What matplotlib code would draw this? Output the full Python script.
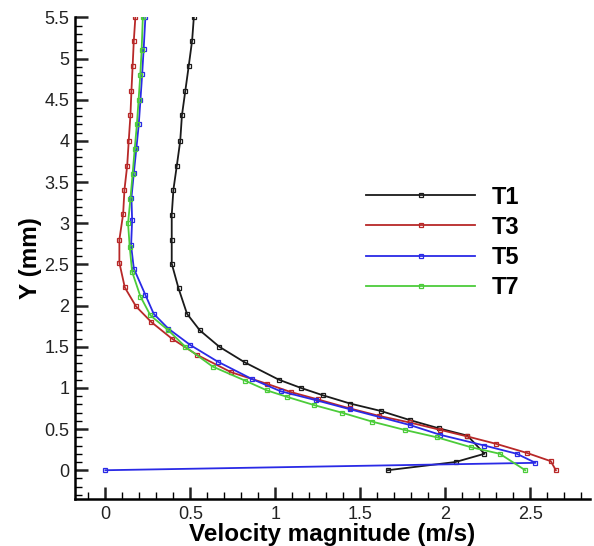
import matplotlib
matplotlib.use("Agg")
import matplotlib.pyplot as plt
from matplotlib.ticker import MultipleLocator

plt.rcParams['font.family'] = ['Liberation Sans', 'DejaVu Sans']

# velocity profiles (x = velocity m/s, y = height mm)
t1_x = [1.66, 2.06, 2.23, 2.13, 1.96, 1.79, 1.62, 1.44, 1.28, 1.15, 1.02, 0.82,
        0.67, 0.555, 0.48, 0.43, 0.39, 0.39, 0.39, 0.40, 0.42, 0.44, 0.45, 0.47,
        0.49, 0.51, 0.52]
t1_y = [0.0, 0.10, 0.20, 0.42, 0.51, 0.61, 0.72, 0.81, 0.91, 1.0, 1.10, 1.31,
        1.50, 1.70, 1.90, 2.21, 2.51, 2.80, 3.10, 3.41, 3.70, 4.00, 4.31, 4.61,
        4.91, 5.22, 5.50]

t3_x = [2.65, 2.62, 2.48, 2.30, 2.13, 1.97, 1.79, 1.61, 1.44, 1.25, 1.09, 0.95,
        0.74, 0.54, 0.39, 0.27, 0.18, 0.114, 0.082, 0.082, 0.104, 0.112, 0.128,
        0.137, 0.147, 0.153, 0.16, 0.167, 0.176]
t3_y = [0.0, 0.11, 0.21, 0.32, 0.41, 0.49, 0.58, 0.66, 0.75, 0.86, 0.95, 1.05,
        1.19, 1.40, 1.60, 1.80, 1.99, 2.22, 2.52, 2.80, 3.11, 3.41, 3.70, 4.00,
        4.31, 4.61, 4.91, 5.22, 5.50]

t5_x = [0.0, 2.53, 2.42, 2.23, 1.97, 1.79, 1.44, 1.24, 1.03, 0.86, 0.66, 0.50,
        0.37, 0.284, 0.235, 0.167, 0.151, 0.157, 0.153, 0.167, 0.182, 0.196,
        0.206, 0.216, 0.225, 0.235]
t5_y = [0.0, 0.09, 0.20, 0.30, 0.43, 0.55, 0.74, 0.85, 0.96, 1.11, 1.32, 1.52,
        1.72, 1.90, 2.13, 2.45, 2.73, 3.04, 3.31, 3.61, 3.91, 4.20, 4.50, 4.81,
        5.12, 5.50]

t7_x = [2.47, 2.32, 2.15, 1.95, 1.76, 1.57, 1.39, 1.23, 1.07, 0.95, 0.82, 0.63,
        0.47, 0.37, 0.265, 0.206, 0.157, 0.143, 0.133, 0.147, 0.16, 0.172,
        0.185, 0.195, 0.205, 0.213, 0.22]
t7_y = [0.0, 0.20, 0.28, 0.40, 0.49, 0.59, 0.70, 0.79, 0.89, 0.97, 1.09, 1.26,
        1.50, 1.70, 1.88, 2.11, 2.41, 2.71, 3.0, 3.30, 3.60, 3.90, 4.20, 4.50,
        4.80, 5.11, 5.50]

series = [
    ("T1", t1_x, t1_y, "#1a1a1a"),
    ("T3", t3_x, t3_y, "#b82828"),
    ("T5", t5_x, t5_y, "#2a2ae6"),
    ("T7", t7_x, t7_y, "#4ccc3a"),
]

fig = plt.figure(figsize=(5.94, 5.46), dpi=100)
ax = fig.add_axes([0.126, 0.086, 0.867, 0.882])

for name, xs, ys, c in series:
    ax.plot(xs, ys, color=c, lw=1.3, marker="s", ms=3.5, mfc="none", mec=c,
            mew=0.9, label=name)

ax.set_xlim(-0.18, 2.85)
ax.set_ylim(-0.35, 5.5)
ax.xaxis.set_major_locator(MultipleLocator(0.5))
ax.xaxis.set_minor_locator(MultipleLocator(0.1))
ax.yaxis.set_major_locator(MultipleLocator(0.5))
ax.yaxis.set_minor_locator(MultipleLocator(0.1))
ax.xaxis.set_major_formatter(plt.FuncFormatter(lambda v, p: "%g" % v))
ax.yaxis.set_major_formatter(plt.FuncFormatter(lambda v, p: "%g" % v))

for s in ["top", "right"]:
    ax.spines[s].set_visible(False)
for s in ["left", "bottom"]:
    ax.spines[s].set_linewidth(1.8)

ax.tick_params(which="major", direction="in", length=9, width=1.8,
               labelsize=13, colors="#222222", pad=5)
ax.tick_params(axis="y", which="major", pad=4)
ax.tick_params(which="minor", direction="in", length=5, width=1.0)

ax.set_xlabel("Velocity magnitude (m/s)", fontsize=17.5, fontweight="bold", labelpad=0)
ax.set_ylabel("Y (mm)", fontsize=17.5, fontweight="bold", labelpad=2)

ax.legend(loc="upper left", bbox_to_anchor=(0.525, 0.695), frameon=False,
          handlelength=4.6, handletextpad=0.7, labelspacing=0.3,
          prop={"size": 17, "weight": "bold"}, numpoints=1)

fig.savefig("out.png", dpi=100)
